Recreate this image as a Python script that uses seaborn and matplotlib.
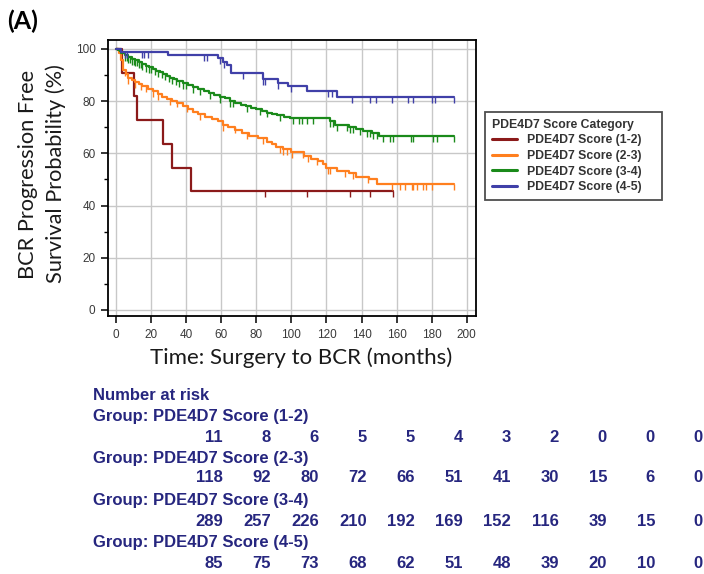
import numpy as np
import pandas as pd
import matplotlib
matplotlib.use("Agg")
import matplotlib.pyplot as plt
import seaborn as sns

# ---------------- data ----------------
groups = ["PDE4D7 Score (1-2)", "PDE4D7 Score (2-3)", "PDE4D7 Score (3-4)", "PDE4D7 Score (4-5)"]
colors = ["#8B1A1A", "#FF7F1E", "#1A8A1A", "#4040A8"]

# step event times (months) and survival (%) after each step
red_t = [0, 3.5, 10, 12, 27, 32, 43]
red_s = [100, 90.9, 81.8, 72.7, 63.6, 54.5, 45.5]
red_end = 158
red_cens = [85, 109, 133.5, 145, 158]

orange_t = [0, 1.5, 3, 4, 5.5, 7, 9, 11, 13, 15, 18, 21, 24, 26, 29, 32, 35, 38, 41, 44, 47,
            51, 55, 58, 61, 64, 68, 72, 76, 81, 86, 89, 91, 95, 100, 107, 111, 115, 118, 120,
            126, 133, 137, 144, 149]
orange_s = [100, 98.3, 95.8, 92.0, 90.2, 88.8, 88.0, 87.2, 86.4, 85.6, 84.8, 84.0, 82.8, 81.7,
            80.9, 80.0, 79.1, 78.0, 76.9, 76.0, 75.2, 74.1, 73.2, 72.2, 71.0, 70.0, 68.8, 67.7,
            66.8, 65.8, 64.5, 63.4, 62.5, 61.6, 60.6, 58.8, 58.0, 57.2, 55.8, 54.4, 53.4, 52.4,
            51.1, 50.0, 48.3]
orange_end = 193
orange_cens = [5, 7, 11, 14, 17, 21.3, 24.1, 30.8, 34.6, 40.3, 47.9, 61.2, 67.9, 74.5, 84,
               93.5, 95.4, 97.3, 100.2, 106.8, 109.7, 114.4, 121.1, 122, 130.6, 135.3, 143.9,
               157.2, 162, 165, 168.6, 169.5, 171.4, 175.3, 177, 180, 193]

green_t = [0, 1, 2, 3, 5, 7, 9, 11, 13, 15, 17, 19, 21, 23, 25, 27, 29, 31, 33, 35, 38, 41, 44,
           47, 50, 53, 56, 59, 62, 65, 68, 71, 74, 77, 80, 83, 86, 89, 92, 96, 99, 122, 125, 133,
           137, 141, 146, 150]
green_s = [100, 99.6, 99.0, 98.3, 97.6, 97.0, 96.3, 95.6, 95.0, 94.3, 93.6, 93.0, 92.3, 91.6,
           91.0, 90.3, 89.6, 89.0, 88.3, 87.7, 87.0, 86.2, 85.4, 84.7, 84.0, 83.2, 82.5, 81.7,
           81.0, 80.2, 79.4, 78.6, 78.0, 77.4, 76.8, 76.2, 75.6, 75.0, 74.5, 74.0, 73.6, 72.2,
           70.9, 70.0, 69.3, 68.6, 67.6, 66.6]
green_end = 193
green_cens = [5, 6, 7, 8, 9, 10, 11, 12, 13, 14, 15, 17, 19, 20, 22, 24, 26, 28, 30, 32, 34, 36,
              38, 40, 44.1, 47.9, 53.6, 59.3, 65, 66.9, 74.5, 82.1, 85.9, 93.5, 101.1, 104.4,
              106.3, 108.7, 112.5, 122, 123.9, 125.8, 131.6, 133.5, 135, 139.2, 143, 144.9,
              146.8, 148.7, 152.5, 156.3, 158.2, 168.5, 169.6, 181, 182.9, 193]

blue_t = [0, 3, 29.7, 58.2, 61, 63, 65.8, 83.8, 92.4, 98.1, 108.7, 125.8]
blue_s = [100, 98.8, 97.6, 96.4, 95.1, 93.9, 90.7, 88.3, 86.9, 85.6, 83.9, 81.5]
blue_end = 193
blue_cens = [5, 6, 15, 16, 18, 50, 52, 59.5, 61.5, 72.6, 84, 85, 92.5, 100, 121, 123, 134.4,
             144.9, 148.3, 157.2, 166.7, 169.6, 180, 182, 193]

risk_times = [0, 20, 40, 60, 80, 100, 120, 140, 160, 180, 200]
risk_red = [11, 8, 6, 5, 5, 4, 3, 2, 0, 0, 0]
risk_orange = [118, 92, 80, 72, 66, 51, 41, 30, 15, 6, 0]
risk_green = [289, 257, 226, 210, 192, 169, 152, 116, 39, 15, 0]
risk_blue = [85, 75, 73, 68, 62, 51, 48, 39, 20, 10, 0]

curves = [(red_t, red_s, red_end, red_cens),
          (orange_t, orange_s, orange_end, orange_cens),
          (green_t, green_s, green_end, green_cens),
          (blue_t, blue_s, blue_end, blue_cens)]
risks = [risk_red, risk_orange, risk_green, risk_blue]

# ---------------- figure ----------------
sns.set_theme(style="white")
plt.rcParams["font.family"] = ["Liberation Sans", "DejaVu Sans"]

W, H = 704, 574
fig = plt.figure(figsize=(W / 100, H / 100), dpi=100)
ax = fig.add_axes([108 / W, 1 - 316 / H, 368 / W, 276 / H])

rows = []
for name, (t, s, end, _) in zip(groups, curves):
    for a, b in zip(list(t) + [end], list(s) + [s[-1]]):
        rows.append({"group": name, "t": a, "s": b})
df = pd.DataFrame(rows)

sns.lineplot(data=df, x="t", y="s", hue="group", hue_order=groups, palette=colors,
             drawstyle="steps-post", estimator=None, sort=True, linewidth=1.6, ax=ax)

for (t, s, end, cens), c in zip(curves, colors):
    t_arr = np.asarray(t, float)
    s_arr = np.asarray(s, float)
    idx = np.searchsorted(t_arr, np.asarray(cens, float), side="right") - 1
    ax.plot(cens, s_arr[idx], linestyle="none", marker=3, markersize=4.5,
            markeredgewidth=1.0, color=c)

handles, labels = ax.get_legend_handles_labels()
if ax.get_legend() is not None:
    ax.get_legend().remove()

ax.set_xlim(-4.6, 205.3)
ax.set_ylim(-2.3, 103.4)
ax.set_xticks(risk_times)
ax.set_yticks([0, 20, 40, 60, 80, 100])
ax.set_yticks([10, 30, 50, 70, 90], minor=True)
ax.grid(True, which="major", color="#c8c8c8", linewidth=1.0)
ax.set_axisbelow(True)
for sp in ax.spines.values():
    sp.set_color("black")
    sp.set_linewidth(1.3)
ax.tick_params(which="major", bottom=True, left=True, direction="out", length=5, width=1.1,
               color="black", labelsize=8.5, labelcolor="#3a3a3a", pad=4)
ax.tick_params(which="minor", left=True, direction="out", length=3, width=1.0, color="black")
ax.set_xlabel("")
ax.set_ylabel("")

label_font = ["Lato", "DejaVu Sans"]
fig.text(42 / W, 1 - 174 / H, "BCR Progression Free\nSurvival Probability (%)", rotation=90,
         ha="center", va="center", multialignment="center", fontsize=15.7,
         family=label_font, color="#1a1a1a", linespacing=1.45)
fig.text(301 / W, 1 - 358 / H, "Time: Surgery to BCR (months)", ha="center", va="center",
         fontsize=16, family=label_font, color="#1a1a1a")
fig.text(7 / W, 1 - 21 / H, "(A)", ha="left", va="center", fontsize=18, fontweight="bold",
         family=label_font, color="black")

leg = fig.legend(handles, groups, loc="upper left",
                 bbox_to_anchor=(485 / W, 1 - 112 / H, 177 / W, 0.0), mode="expand",
                 title="PDE4D7 Score Category", frameon=True, fancybox=False,
                 prop={"size": 8.8, "weight": "bold"},
                 title_fontproperties={"size": 8.8, "weight": "bold"},
                 handlelength=2.1, handletextpad=0.75, labelspacing=0.3, borderpad=0.55,
                 borderaxespad=0.0)
leg._legend_box.align = "left"
leg.get_frame().set_edgecolor("#222222")
leg.get_frame().set_linewidth(1.3)
for txt in leg.get_texts():
    txt.set_color("#333333")
leg.get_title().set_color("#333333")
for lh in leg.legend_handles:
    lh.set_linewidth(2.2)

# ---------------- number at risk table ----------------
navy = "#26267F"
tfont = {"fontsize": 12, "fontweight": "bold", "color": navy}
fig.text(93 / W, 1 - 395 / H, "Number at risk", ha="left", va="center", **tfont)
group_y = [417, 458, 500, 543]
num_y = [437, 478, 522, 563]
for g, gy, ny, counts in zip(groups, group_y, num_y, risks):
    fig.text(93 / W, 1 - gy / H, "Group: " + g, ha="left", va="center", **tfont)
    for i, n in enumerate(counts):
        fig.text((223 + 48.0 * i) / W, 1 - ny / H, str(n), ha="right", va="center", **tfont)

fig.savefig("out.png", dpi=100)
